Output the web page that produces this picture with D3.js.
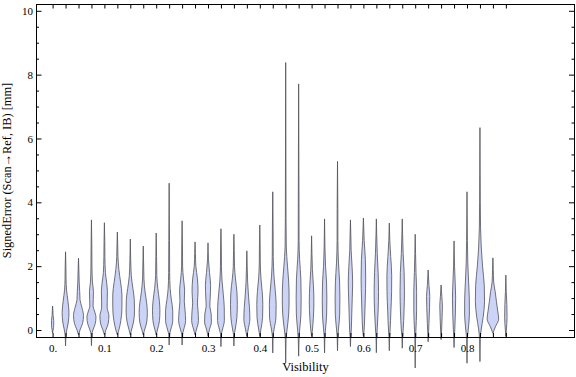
<!DOCTYPE html>
<html><head><meta charset="utf-8">
<script src="https://cdn.jsdelivr.net/npm/d3@7"></script>
<style>body{margin:0;background:#fff}svg{display:block}</style>
</head><body>
<svg id="c" width="576" height="377"></svg>
<script>
// ---- data ----
const visibility = [0,0.025,0.05,0.075,0.1,0.125,0.15,0.175,0.2,0.225,0.25,0.275,0.3,0.325,0.35,0.375,0.4,0.425,0.45,0.475,0.5,0.525,0.55,0.575,0.6,0.625,0.65,0.675,0.7,0.725,0.75,0.775,0.8,0.825,0.85,0.875];
// each profile: [signedError (mm), relative density] from minimum to maximum
const densityProfiles = [
 [[-0.1,0],[0,0.1],[0.15,0.22],[0.3,0.22],[0.45,0.1],[0.6,0.06],[0.75,0]],
 [[-0.5,0],[-0.2,0.06],[0,0.24],[0.25,0.56],[0.55,0.68],[0.9,0.48],[1.25,0.2],[1.6,0.1],[2.0,0.07],[2.45,0]],
 [[-0.15,0],[0,0.3],[0.2,0.8],[0.45,1.0],[0.7,0.7],[0.95,0.3],[1.2,0.24],[1.5,0.14],[1.9,0.07],[2.25,0]],
 [[-0.49,0],[-0.15,0.07],[0,0.3],[0.2,0.76],[0.4,0.9],[0.6,0.6],[0.75,0.32],[0.95,0.36],[1.2,0.4],[1.5,0.2],[2.0,0.1],[2.7,0.07],[3.45,0]],
 [[-0.15,0],[0,0.3],[0.2,0.76],[0.45,0.9],[0.7,0.56],[0.9,0.56],[1.2,0.6],[1.5,0.44],[1.8,0.2],[2.3,0.1],[2.8,0.07],[3.36,0]],
 [[-0.15,0],[0,0.3],[0.3,0.7],[0.7,0.92],[1.1,0.92],[1.5,0.64],[1.9,0.3],[2.3,0.12],[2.7,0.07],[3.07,0]],
 [[-0.15,0],[0,0.24],[0.25,0.64],[0.6,0.84],[0.95,0.8],[1.3,0.52],[1.7,0.2],[2.2,0.08],[2.85,0]],
 [[-0.15,0],[0,0.26],[0.25,0.7],[0.55,0.82],[0.85,0.68],[1.2,0.36],[1.6,0.14],[2.1,0.07],[2.63,0]],
 [[-0.15,0],[0,0.24],[0.3,0.66],[0.6,0.74],[0.9,0.64],[1.3,0.32],[1.7,0.12],[2.3,0.07],[3.04,0]],
 [[-0.47,0],[-0.15,0.07],[0,0.3],[0.3,0.72],[0.6,0.72],[0.95,0.44],[1.3,0.2],[1.8,0.1],[2.8,0.07],[4.6,0]],
 [[-0.47,0],[-0.15,0.07],[0,0.3],[0.3,0.7],[0.6,0.6],[0.9,0.44],[1.25,0.5],[1.6,0.28],[2.0,0.1],[2.7,0.07],[3.42,0]],
 [[-0.15,0],[0,0.26],[0.3,0.68],[0.6,0.6],[0.85,0.48],[1.2,0.6],[1.6,0.48],[2.0,0.16],[2.4,0.07],[2.76,0]],
 [[-0.2,0],[0,0.26],[0.25,0.68],[0.5,0.64],[0.75,0.36],[1.0,0.44],[1.4,0.52],[1.8,0.3],[2.2,0.1],[2.73,0]],
 [[-0.52,0],[-0.15,0.07],[0,0.28],[0.3,0.68],[0.7,0.66],[1.1,0.48],[1.5,0.24],[2.0,0.1],[2.6,0.07],[3.17,0]],
 [[-0.5,0],[-0.15,0.07],[0,0.24],[0.4,0.6],[0.8,0.68],[1.2,0.6],[1.6,0.32],[2.0,0.12],[2.5,0.07],[3.0,0]],
 [[-0.2,0],[0,0.24],[0.35,0.6],[0.7,0.52],[1.1,0.32],[1.5,0.16],[2.0,0.07],[2.48,0]],
 [[-0.2,0],[0,0.2],[0.4,0.56],[0.8,0.6],[1.2,0.48],[1.6,0.24],[2.1,0.1],[2.7,0.07],[3.29,0]],
 [[-0.72,0],[-0.2,0.07],[0,0.24],[0.4,0.64],[0.8,0.68],[1.2,0.52],[1.7,0.24],[2.3,0.1],[3.2,0.07],[4.33,0]],
 [[-1.04,0],[-0.3,0.07],[0,0.26],[0.5,0.6],[1.0,0.68],[1.5,0.6],[2.0,0.36],[2.6,0.12],[3.5,0.07],[8.38,0]],
 [[-0.82,0],[-0.3,0.07],[0,0.2],[0.5,0.46],[1.0,0.5],[1.6,0.44],[2.2,0.2],[2.8,0.08],[4.0,0.07],[7.71,0]],
 [[-0.2,0],[0,0.16],[0.4,0.36],[0.9,0.46],[1.4,0.36],[1.9,0.16],[2.4,0.07],[2.95,0]],
 [[-0.72,0],[-0.2,0.07],[0,0.18],[0.5,0.42],[1.0,0.46],[1.5,0.4],[2.0,0.2],[2.6,0.08],[3.48,0]],
 [[-0.65,0],[-0.2,0.07],[0,0.18],[0.5,0.44],[1.0,0.48],[1.5,0.42],[2.1,0.2],[2.8,0.08],[3.8,0.07],[5.28,0]],
 [[-0.52,0],[-0.2,0.07],[0,0.16],[0.5,0.26],[1.0,0.36],[1.5,0.44],[2.0,0.32],[2.5,0.14],[3.0,0.07],[3.45,0]],
 [[-0.2,0],[0,0.14],[0.5,0.28],[1.0,0.38],[1.6,0.46],[2.2,0.4],[2.8,0.16],[3.2,0.07],[3.51,0]],
 [[-0.71,0],[-0.2,0.07],[0,0.16],[0.6,0.36],[1.2,0.44],[1.8,0.36],[2.4,0.18],[3.0,0.07],[3.48,0]],
 [[-0.65,0],[-0.2,0.07],[0,0.16],[0.6,0.32],[1.2,0.46],[1.7,0.48],[2.3,0.28],[2.8,0.1],[3.35,0]],
 [[-0.57,0],[-0.2,0.07],[0,0.18],[0.6,0.36],[1.2,0.44],[1.8,0.38],[2.4,0.18],[3.0,0.07],[3.48,0]],
 [[-1.19,0],[-0.3,0.07],[0,0.14],[0.6,0.28],[1.2,0.28],[1.8,0.16],[2.4,0.07],[3.0,0]],
 [[-0.37,0],[-0.1,0.07],[0.2,0.16],[0.7,0.28],[1.05,0.32],[1.4,0.16],[1.88,0]],
 [[-0.3,0],[0,0.1],[0.4,0.2],[0.75,0.26],[1.05,0.14],[1.41,0]],
 [[-0.55,0],[-0.2,0.07],[0,0.14],[0.5,0.26],[1.0,0.32],[1.5,0.22],[2.0,0.1],[2.79,0]],
 [[-1.04,0],[-0.3,0.07],[0,0.24],[0.5,0.48],[1.0,0.46],[1.5,0.32],[2.1,0.16],[2.8,0.08],[4.33,0]],
 [[-0.99,0],[-0.3,0.07],[0,0.24],[0.4,0.64],[0.9,0.92],[1.4,0.86],[2.0,0.52],[2.6,0.26],[3.2,0.12],[4.0,0.07],[6.34,0]],
 [[-0.1,0],[0.1,0.5],[0.35,1.16],[0.6,0.96],[0.9,0.7],[1.2,0.46],[1.5,0.16],[1.9,0.07],[2.26,0]],
 [[-0.2,0],[0,0.1],[0.4,0.24],[0.8,0.2],[1.2,0.08],[1.72,0]]
];
const xLabelValues = [0,0.1,0.2,0.3,0.4,0.5,0.6,0.7,0.8];
const xLabels = ["0.","0.1","0.2","0.3","0.4","0.5","0.6","0.7","0.8"];
const yMajorTicks = [0,2,4,6,8,10];
const yLabels = ["0","2","4","6","8","10"];
const yMinorTicks = [0.5,1,1.5,2.5,3,3.5,4.5,5,5.5,6.5,7,7.5,8.5,9,9.5];
const xTitle = "Visibility";
const yTitle = "SignedError (Scan\u2192Ref, IB) [mm]";

// ---- layout ----
const frame = {left:36, right:575, top:4, bottom:337};
const svg = d3.select("#c");
const font = "'Liberation Serif','Times New Roman',serif";

const x = d3.scaleLinear().domain([0, 0.8]).range([52.6, 52.6 + 0.8*518]);
const y = d3.scaleLinear().domain([0, 10]).range([330, 10.8]);
const w = d3.scaleLinear().domain([0, 1]).range([0, 5]);

// violins
const gV = svg.append("g");
visibility.forEach((v, i) => {
  const cx = x(v);
  const area = d3.area()
    .curve(d3.curveMonotoneY)
    .y(d => y(d[0]))
    .x0(d => cx - w(d[1]))
    .x1(d => cx + w(d[1]));
  gV.append("path")
    .attr("d", area(densityProfiles[i]))
    .attr("fill", "#cbd3f6")
    .attr("stroke", "#505058")
    .attr("stroke-width", 0.8)
    .attr("stroke-linejoin", "round");
});

// frame
svg.append("rect")
  .attr("x", frame.left + 0.5).attr("y", frame.top + 0.5)
  .attr("width", frame.right - frame.left - 1).attr("height", frame.bottom - frame.top)
  .attr("fill", "none").attr("stroke", "#000").attr("stroke-width", 1);

function styleAxis(g) {
  g.select(".domain").remove();
  g.selectAll("line").attr("stroke", "#000");
  g.selectAll("text").attr("font-family", font).attr("font-size", 11).attr("fill", "#000");
}

// bottom ticks
svg.append("g").attr("transform", `translate(0,${frame.bottom})`)
  .call(d3.axisBottom(x).tickValues(visibility).tickSize(-4).tickFormat(""))
  .call(styleAxis);
svg.append("g").attr("transform", `translate(0,${frame.bottom})`)
  .call(d3.axisBottom(x).tickValues(xLabelValues).tickSize(0).tickPadding(7)
    .tickFormat((d, i) => xLabels[i]))
  .call(styleAxis);
// top ticks
svg.append("g").attr("transform", `translate(0,${frame.top + 0.5})`)
  .call(d3.axisTop(x).tickValues(visibility).tickSize(-4).tickFormat(""))
  .call(styleAxis);
// left
svg.append("g").attr("transform", `translate(${frame.left},0)`)
  .call(d3.axisLeft(y).tickValues(yMajorTicks).tickSize(-5.5).tickPadding(3)
    .tickFormat((d, i) => yLabels[i]))
  .call(styleAxis);
svg.append("g").attr("transform", `translate(${frame.left},0)`)
  .call(d3.axisLeft(y).tickValues(yMinorTicks).tickSize(-3).tickFormat(""))
  .call(styleAxis);
// right
svg.append("g").attr("transform", `translate(${frame.right - 0.5},0)`)
  .call(d3.axisRight(y).tickValues(yMajorTicks).tickSize(-5.5).tickFormat(""))
  .call(styleAxis);
svg.append("g").attr("transform", `translate(${frame.right - 0.5},0)`)
  .call(d3.axisRight(y).tickValues(yMinorTicks).tickSize(-3).tickFormat(""))
  .call(styleAxis);

// titles
svg.append("text")
  .attr("x", (frame.left + frame.right) / 2).attr("y", 371)
  .attr("text-anchor", "middle")
  .attr("font-family", font).attr("font-size", 12.5).attr("fill", "#000")
  .text(xTitle);
svg.append("text")
  .attr("transform", `translate(11,${(frame.top + frame.bottom) / 2}) rotate(-90)`)
  .attr("text-anchor", "middle")
  .attr("font-family", font).attr("font-size", 12.4).attr("fill", "#000")
  .text(yTitle);
</script>
</body></html>
